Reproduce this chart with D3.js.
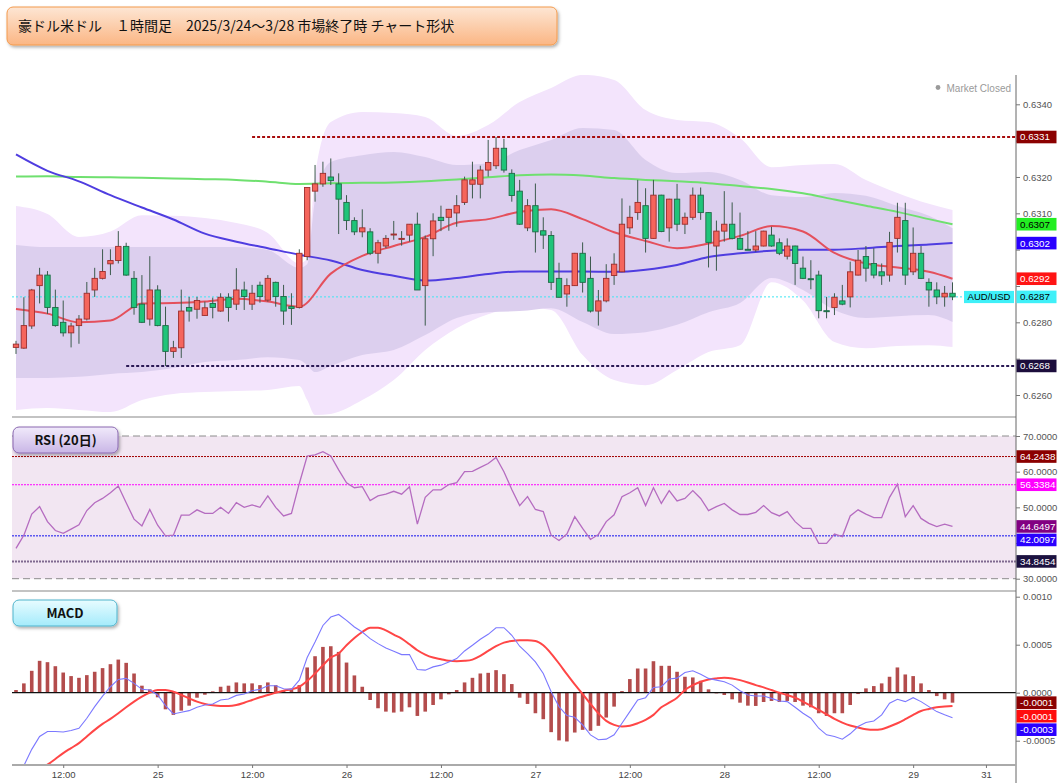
<!DOCTYPE html>
<html>
<head>
<meta charset="utf-8">
<script src="https://cdn.jsdelivr.net/npm/d3@7"></script>
<style>
  body { margin: 0; background: #fff; }
  svg { display: block; }
</style>
</head>
<body>
<div id="chart"></div>
<script>
// 1時間足 OHLC (3/24 06:00 ～ 3/29 05:00 JST)
const openP = [
  0.62731, 0.62729, 0.62790, 0.62901, 0.62930, 0.62841, 0.62800, 0.62771, 0.62791, 0.62809,
  0.62889, 0.62921, 0.62961, 0.62970, 0.63009, 0.62921, 0.62850, 0.62809, 0.62889, 0.62791,
  0.62720, 0.62730, 0.62841, 0.62836, 0.62819, 0.62852, 0.62831, 0.62869, 0.62850, 0.62889,
  0.62850, 0.62902, 0.62861, 0.62910, 0.62871, 0.62843, 0.62841, 0.62981, 0.63161, 0.63181,
  0.63200, 0.63181, 0.63130, 0.63080, 0.63049, 0.63049, 0.62990, 0.63010, 0.63041, 0.63030,
  0.63040, 0.63070, 0.62901, 0.63030, 0.63089, 0.63089, 0.63101, 0.63130, 0.63180, 0.63180,
  0.63219, 0.63231, 0.63279, 0.63210, 0.63161, 0.63060, 0.63121, 0.63052, 0.63039, 0.62921,
  0.62878, 0.62901, 0.62990, 0.62921, 0.62831, 0.62859, 0.62929, 0.62939, 0.63060, 0.63102,
  0.63121, 0.63031, 0.63150, 0.63060, 0.63139, 0.63070, 0.63089, 0.63150, 0.63102, 0.63010,
  0.63051, 0.63070, 0.63031, 0.63001, 0.62999, 0.63010, 0.63040, 0.63019, 0.62982, 0.63010,
  0.62949, 0.62920, 0.62930, 0.62832, 0.62841, 0.62859, 0.62870, 0.62930, 0.62981, 0.62962,
  0.62939, 0.62930, 0.63031, 0.63080, 0.62939, 0.62990, 0.62910, 0.62889, 0.62870, 0.62880
];
const highP = [
  0.62749, 0.62869, 0.62892, 0.62950, 0.62941, 0.62890, 0.62860, 0.62799, 0.62820, 0.62911,
  0.62950, 0.63001, 0.63001, 0.63051, 0.63019, 0.62941, 0.62930, 0.62982, 0.62902, 0.62843,
  0.62749, 0.62890, 0.62870, 0.62870, 0.62857, 0.62868, 0.62880, 0.62880, 0.62949, 0.62912,
  0.62903, 0.62912, 0.62930, 0.62912, 0.62903, 0.62880, 0.63001, 0.63171, 0.63233, 0.63242,
  0.63251, 0.63210, 0.63150, 0.63089, 0.63111, 0.63059, 0.63027, 0.63040, 0.63079, 0.63051,
  0.63070, 0.63102, 0.63039, 0.63100, 0.63121, 0.63112, 0.63150, 0.63201, 0.63242, 0.63231,
  0.63302, 0.63310, 0.63305, 0.63221, 0.63192, 0.63139, 0.63182, 0.63089, 0.63051, 0.62964,
  0.62921, 0.62991, 0.63020, 0.62981, 0.62889, 0.62960, 0.62990, 0.63141, 0.63121, 0.63192,
  0.63169, 0.63192, 0.63151, 0.63140, 0.63181, 0.63102, 0.63171, 0.63171, 0.63103, 0.63080,
  0.63161, 0.63130, 0.63102, 0.63051, 0.63051, 0.63052, 0.63063, 0.63031, 0.63031, 0.63011,
  0.62981, 0.62971, 0.62942, 0.62870, 0.62880, 0.62903, 0.62967, 0.62999, 0.63010, 0.63004,
  0.62962, 0.63049, 0.63129, 0.63129, 0.63061, 0.63010, 0.62921, 0.62910, 0.62900, 0.62910
];
const lowP = [
  0.62713, 0.62727, 0.62782, 0.62852, 0.62823, 0.62788, 0.62761, 0.62731, 0.62741, 0.62805,
  0.62870, 0.62918, 0.62930, 0.62962, 0.62928, 0.62821, 0.62798, 0.62791, 0.62789, 0.62680,
  0.62702, 0.62702, 0.62802, 0.62810, 0.62818, 0.62811, 0.62829, 0.62802, 0.62834, 0.62834,
  0.62834, 0.62854, 0.62857, 0.62843, 0.62793, 0.62793, 0.62838, 0.62971, 0.63132, 0.63173,
  0.63178, 0.63043, 0.63054, 0.63040, 0.63034, 0.62985, 0.62962, 0.63004, 0.63027, 0.63011,
  0.63022, 0.62889, 0.62791, 0.62982, 0.63051, 0.63052, 0.63063, 0.63123, 0.63141, 0.63141,
  0.63201, 0.63222, 0.63212, 0.63132, 0.63068, 0.63051, 0.62992, 0.63002, 0.62889, 0.62868,
  0.62843, 0.62900, 0.62882, 0.62827, 0.62791, 0.62855, 0.62903, 0.62938, 0.63043, 0.63082,
  0.62992, 0.63030, 0.63048, 0.63022, 0.63051, 0.63043, 0.63082, 0.63082, 0.62951, 0.62942,
  0.63022, 0.63028, 0.63000, 0.62999, 0.62994, 0.63009, 0.63008, 0.62985, 0.62973, 0.62903,
  0.62919, 0.62891, 0.62811, 0.62811, 0.62820, 0.62847, 0.62841, 0.62929, 0.62912, 0.62921,
  0.62903, 0.62912, 0.62992, 0.62903, 0.62930, 0.62919, 0.62843, 0.62850, 0.62843, 0.62861
];
const closeP = [
  0.62740, 0.62791, 0.62889, 0.62930, 0.62841, 0.62791, 0.62771, 0.62790, 0.62809, 0.62880,
  0.62921, 0.62940, 0.62970, 0.63009, 0.62930, 0.62841, 0.62800, 0.62889, 0.62791, 0.62720,
  0.62730, 0.62831, 0.62831, 0.62860, 0.62840, 0.62841, 0.62869, 0.62841, 0.62889, 0.62871,
  0.62880, 0.62871, 0.62921, 0.62871, 0.62831, 0.62838, 0.62990, 0.63171, 0.63181, 0.63210,
  0.63190, 0.63139, 0.63080, 0.63049, 0.63060, 0.62990, 0.63019, 0.63031, 0.63043, 0.63031,
  0.63070, 0.62889, 0.63030, 0.63079, 0.63080, 0.63111, 0.63121, 0.63192, 0.63192, 0.63219,
  0.63240, 0.63279, 0.63219, 0.63149, 0.63070, 0.63121, 0.63049, 0.63040, 0.62910, 0.62869,
  0.62901, 0.62990, 0.62910, 0.62831, 0.62859, 0.62921, 0.62960, 0.63070, 0.63089, 0.63130,
  0.63031, 0.63150, 0.63050, 0.63139, 0.63070, 0.63089, 0.63150, 0.63102, 0.63020, 0.63051,
  0.63070, 0.63031, 0.63001, 0.63000, 0.63010, 0.63051, 0.63010, 0.62990, 0.63010, 0.62962,
  0.62921, 0.62919, 0.62832, 0.62831, 0.62869, 0.62850, 0.62939, 0.62971, 0.62949, 0.62930,
  0.62928, 0.63020, 0.63089, 0.62930, 0.62990, 0.62921, 0.62889, 0.62870, 0.62880, 0.62870
];

// 移動平均 (4本ごとに読み取り)
const maIdx = [0, 4, 8, 12, 16, 20, 24, 28, 32, 36, 40, 44, 48, 52, 56, 60, 64, 68, 72, 76,
  80, 84, 88, 92, 96, 100, 104, 108, 112, 116, 119];
const maShort = [0.62837, 0.62824, 0.62800, 0.62805, 0.62852, 0.62853, 0.62857, 0.62865, 0.62857, 0.62843,
  0.62934, 0.62983, 0.63010, 0.63035, 0.63074, 0.63084, 0.63104, 0.63111, 0.63084, 0.63048,
  0.63024, 0.63004, 0.63017, 0.63038, 0.63065, 0.63050, 0.62991, 0.62962, 0.62951, 0.62939, 0.62920];
const maMid = [0.63262, 0.63217, 0.63188, 0.63150, 0.63116, 0.63083, 0.63044, 0.63022, 0.63004, 0.62986,
  0.62970, 0.62944, 0.62928, 0.62915, 0.62922, 0.62933, 0.62940, 0.62940, 0.62940, 0.62939,
  0.62945, 0.62958, 0.62980, 0.62990, 0.62997, 0.63000, 0.63000, 0.63004, 0.63010, 0.63014, 0.63018];
const maLong = [0.63201, 0.63202, 0.63200, 0.63199, 0.63198, 0.63196, 0.63194, 0.63192, 0.63187, 0.63181,
  0.63183, 0.63184, 0.63185, 0.63188, 0.63193, 0.63199, 0.63205, 0.63207, 0.63204, 0.63197,
  0.63192, 0.63188, 0.63183, 0.63175, 0.63167, 0.63155, 0.63138, 0.63121, 0.63104, 0.63084, 0.63070];

// ボリンジャーバンド (±2σ 内側, ±3σ 外側)
const bandIdx = [0, 4, 8, 12, 16, 20, 24, 28, 32, 36, 37, 38, 40, 44, 48, 52, 56, 60, 64, 68,
  72, 76, 80, 84, 88, 92, 96, 100, 104, 108, 112, 116, 119];
const bandOuterUp = [0.63120, 0.63098, 0.63035, 0.63050, 0.63095, 0.63093, 0.63087, 0.63073, 0.63046, 0.62962,
  0.62975, 0.63205, 0.63351, 0.63379, 0.63376, 0.63365, 0.63313, 0.63343, 0.63406, 0.63445,
  0.63481, 0.63467, 0.63384, 0.63357, 0.63351, 0.63307, 0.63227, 0.63233, 0.63236, 0.63192,
  0.63156, 0.63126, 0.63109];
const bandInnerUp = [0.63013, 0.63007, 0.63007, 0.63007, 0.63007, 0.63007, 0.63007, 0.63007, 0.62999, 0.62950,
  0.62960, 0.63137, 0.63241, 0.63260, 0.63269, 0.63255, 0.63233, 0.63238, 0.63274, 0.63302,
  0.63335, 0.63329, 0.63247, 0.63211, 0.63214, 0.63192, 0.63150, 0.63145, 0.63156, 0.63148,
  0.63120, 0.63093, 0.63059];
const bandInnerLow = [0.62647, 0.62647, 0.62650, 0.62658, 0.62663, 0.62674, 0.62691, 0.62696, 0.62704, 0.62696,
  0.62682, 0.62663, 0.62680, 0.62710, 0.62724, 0.62765, 0.62812, 0.62828, 0.62831, 0.62839,
  0.62801, 0.62768, 0.62773, 0.62793, 0.62828, 0.62853, 0.62922, 0.62889, 0.62834, 0.62812,
  0.62817, 0.62820, 0.62801];
const bandOuterLow = [0.62559, 0.62564, 0.62559, 0.62553, 0.62586, 0.62603, 0.62608, 0.62611, 0.62614, 0.62625,
  0.62586, 0.62545, 0.62548, 0.62586, 0.62641, 0.62724, 0.62784, 0.62822, 0.62842, 0.62834,
  0.62710, 0.62641, 0.62627, 0.62669, 0.62718, 0.62737, 0.62910, 0.62860, 0.62746, 0.62729,
  0.62735, 0.62737, 0.62732];

// RSI (20)
const rsi = [
  38.5, 42.2, 48.1, 50.2, 46.0, 43.5, 42.7, 43.9, 45.1, 49.1,
  51.3, 52.5, 54.1, 56.0, 51.3, 46.7, 44.8, 49.4, 45.0, 42.0,
  42.2, 47.8, 47.8, 49.3, 48.3, 48.3, 50.0, 48.3, 51.3, 50.0,
  50.7, 50.0, 53.2, 50.0, 47.6, 48.3, 56.7, 64.4, 64.7, 65.6,
  64.4, 60.5, 56.9, 55.5, 55.8, 51.9, 53.2, 53.7, 54.5, 53.7,
  55.8, 45.3, 52.8, 54.9, 54.9, 56.4, 56.9, 60.0, 60.1, 61.2,
  62.3, 64.0, 60.0, 55.0, 50.5, 53.0, 49.4, 48.8, 42.2, 40.7,
  42.5, 47.4, 44.1, 41.0, 42.4, 46.0, 47.9, 53.0, 54.1, 55.5,
  50.5, 55.5, 51.1, 54.7, 51.8, 52.5, 54.7, 52.5, 49.1, 50.2,
  51.1, 49.3, 48.0, 48.0, 48.6, 50.5, 48.5, 47.6, 48.8, 46.0,
  44.1, 44.1, 39.9, 39.9, 42.5, 41.8, 47.6, 49.3, 48.1, 47.1,
  47.1, 52.8, 56.5, 47.4, 50.5, 46.9, 45.5, 44.6, 45.3, 44.6497
];
const rsiLevels = [64.2438, 56.3384, 42.0097, 34.8454];

// MACD (単位 0.0001)
const macdHist = [
  0.28, 0.97, 2.28, 3.32, 3.18, 2.76, 2.10, 1.73, 1.55, 1.83,
  2.18, 2.56, 2.97, 3.45, 3.11, 2.00, 0.73, 0.35, -0.48, -1.73,
  -2.31, -1.87, -1.35, -0.52, -0.21, 0.14, 0.62, 0.73, 1.07, 0.97,
  0.97, 0.79, 1.07, 0.79, 0.28, 0.35, 0.79, 2.63, 3.80, 4.77,
  4.84, 4.25, 3.14, 1.80, 0.62, -0.76, -1.62, -1.97, -2.07, -1.97,
  -1.52, -2.42, -1.97, -1.28, -0.69, -0.17, 0.28, 1.07, 1.55, 2.00,
  2.07, 2.35, 1.93, 0.90, -0.52, -1.17, -2.14, -2.76, -4.11, -4.97,
  -5.08, -4.15, -3.87, -3.97, -3.45, -2.59, -1.45, 0.17, 1.42, 2.52,
  2.52, 3.28, 2.80, 2.80, 2.18, 1.66, 1.59, 1.24, 0.35, -0.07,
  -0.24, -0.69, -1.04, -1.35, -1.38, -0.97, -0.86, -0.97, -0.86, -0.97,
  -1.35, -1.52, -2.14, -2.42, -2.14, -2.14, -1.28, -0.14, 0.45, 0.69,
  0.97, 1.66, 2.63, 1.90, 1.73, 0.97, 0.28, -0.35, -0.69, -1.04
];
const macdLine = [
  -9.00, -7.60, -5.90, -4.56, -4.04, -4.04, -4.10, -3.94, -3.70, -2.66,
  -1.45, -0.35, 0.62, 1.38, 1.49, 0.97, 0.35, 0.28, -0.24, -1.35,
  -2.21, -2.04, -1.87, -1.52, -1.28, -1.17, -0.76, -0.66, -0.28, -0.14,
  0.21, 0.35, 0.73, 0.73, 0.41, 0.35, 1.31, 3.66, 5.28, 7.00,
  7.88, 8.15, 7.53, 6.84, 6.32, 5.63, 5.11, 4.66, 4.32, 3.97,
  3.97, 2.42, 2.35, 2.69, 2.87, 3.21, 3.56, 4.35, 4.94, 5.56,
  6.08, 6.77, 6.77, 5.98, 4.84, 4.08, 3.21, 2.00, 0.10, -1.45,
  -2.38, -2.56, -3.35, -4.39, -4.90, -4.84, -4.39, -3.18, -1.97, -0.76,
  -0.52, 0.55, 0.62, 1.42, 1.52, 2.10, 2.28, 1.93, 1.49, 1.31,
  1.14, 0.79, 0.21, -0.24, -0.35, -0.35, -0.59, -0.86, -0.93, -1.52,
  -2.14, -2.66, -3.70, -4.39, -4.56, -4.84, -4.28, -3.52, -3.11, -2.94,
  -2.31, -1.10, -0.69, -0.93, -0.52, -0.93, -1.45, -1.97, -2.30, -2.60
];
const macdSignal = [
  -9.60, -9.10, -8.60, -8.00, -7.50, -6.90, -6.29, -5.77, -5.25, -4.56,
  -3.87, -3.25, -2.73, -2.14, -1.52, -0.93, -0.41, 0.00, 0.28, 0.28,
  0.10, -0.24, -0.59, -0.93, -1.17, -1.31, -1.38, -1.38, -1.28, -1.04,
  -0.76, -0.48, -0.24, 0.00, 0.21, 0.35, 0.62, 1.21, 2.00, 2.87,
  3.66, 4.08, 4.94, 5.70, 6.32, 6.77, 6.77, 6.49, 6.04, 5.63,
  5.04, 4.42, 3.97, 3.66, 3.49, 3.32, 3.28, 3.32, 3.45, 3.83,
  4.35, 4.84, 5.22, 5.39, 5.46, 5.46, 5.39, 4.94, 4.08, 3.04,
  1.93, 0.86, -0.14, -1.17, -2.14, -2.94, -3.35, -3.52, -3.45, -3.18,
  -2.83, -2.31, -1.52, -1.04, -0.52, 0.28, 0.79, 1.14, 1.38, 1.49,
  1.55, 1.49, 1.31, 1.07, 0.79, 0.55, 0.28, 0.00, -0.24, -0.52,
  -0.93, -1.35, -1.80, -2.25, -2.73, -3.11, -3.42, -3.63, -3.80, -3.87,
  -3.80, -3.52, -3.18, -2.76, -2.31, -1.90, -1.69, -1.52, -1.45, -1.38
];

// 高値・安値ライン
const levelHigh = { value: 0.6331, from: 30 };
const levelLow = { value: 0.6268, from: 14 };

// 軸ラベル
const priceTicks = [0.6260, 0.6270, 0.6280, 0.6290, 0.6300, 0.6310, 0.6320, 0.6330, 0.6340];
const rsiTicks = [30, 40, 50, 60, 70];
const macdTicks = [-5, 0, 5, 10];
const timeIdx = [6, 18, 30, 42, 54, 66, 78, 90, 102, 114, 123.25];
const timeLabels = ["12:00", "25", "12:00", "26", "12:00", "27", "12:00", "28", "12:00", "29", "31"];
const titleText = "豪ドル米ドル　１時間足　2025/3/24～3/28 市場終了時 チャート形状";

// ---------------------------------------------------------------
const width = 1061, height = 783;
const left = 12, axisX = 1016;
const pTop = 75, pBot = 417, rBot = 591, mBot = 765;
const fontNum = "'Liberation Sans', Arial, sans-serif";
const fontJp = "'Noto Sans CJK JP', 'Noto Sans', sans-serif";

const svg = d3.select('#chart').append('svg')
  .attr('width', width).attr('height', height);

const defs = svg.append('defs');
const shadow = defs.append('filter').attr('id', 'shadow')
  .attr('x', '-10%').attr('y', '-30%').attr('width', '130%').attr('height', '180%');
shadow.append('feDropShadow').attr('dx', 1.5).attr('dy', 2).attr('stdDeviation', 1.5)
  .attr('flood-color', '#000').attr('flood-opacity', 0.3);

function gradient(id, c1, c2) {
  const g = defs.append('linearGradient').attr('id', id)
    .attr('x1', 0).attr('y1', 0).attr('x2', 0).attr('y2', 1);
  g.append('stop').attr('offset', '0%').attr('stop-color', c1);
  g.append('stop').attr('offset', '100%').attr('stop-color', c2);
}
gradient('gTitle', '#fde6d4', '#fbb684');
gradient('gRsi', '#f1eafb', '#c9b6e6');
gradient('gMacd', '#e8fcff', '#a4ebfb');

function clip(id, y0, y1) {
  defs.append('clipPath').attr('id', id).append('rect')
    .attr('x', left).attr('y', y0).attr('width', axisX - left).attr('height', y1 - y0);
}
clip('cPrice', pTop, pBot);
clip('cRsi', pBot, rBot);
clip('cMacd', rBot, mBot);

// scales
const x = d3.scaleLinear().domain([0, 119]).range([16, 952.5]);
const yP = d3.scaleLinear().domain([0.6260, 0.6340]).range([395, 104.3]);
const yR = d3.scaleLinear().domain([30, 70]).range([578.7, 436]);
const yM = d3.scaleLinear().domain([-5, 10]).range([740.7, 596.7]);

// ---------------- price panel
const gp = svg.append('g').attr('clip-path', 'url(#cPrice)');

const bandData = bandIdx.map((d, k) => ({
  i: d, ou: bandOuterUp[k], iu: bandInnerUp[k], il: bandInnerLow[k], ol: bandOuterLow[k]
}));
gp.append('path').datum(bandData)
  .attr('fill', '#f3e4fc')
  .attr('d', d3.area().curve(d3.curveMonotoneX)
    .x(d => x(d.i)).y0(d => yP(d.ol)).y1(d => yP(d.ou)));
gp.append('path').datum(bandData)
  .attr('fill', '#dccfee')
  .attr('d', d3.area().curve(d3.curveMonotoneX)
    .x(d => x(d.i)).y0(d => yP(d.il)).y1(d => yP(d.iu)));

// current price line
gp.append('line')
  .attr('x1', left).attr('x2', axisX)
  .attr('y1', yP(closeP[119])).attr('y2', yP(closeP[119]))
  .attr('stroke', '#3ee6f2').attr('stroke-width', 1).attr('stroke-dasharray', '2,2');

// high / low lines
[[levelHigh, '#a80d0d'], [levelLow, '#2b1a55']].forEach(([lv, col]) => {
  gp.append('line')
    .attr('x1', x(lv.from)).attr('x2', axisX)
    .attr('y1', yP(lv.value)).attr('y2', yP(lv.value))
    .attr('stroke', col).attr('stroke-width', 2).attr('stroke-dasharray', '3,2');
});

// moving averages
const maLineGen = arr => d3.line().curve(d3.curveMonotoneX)
  .x((d, k) => x(maIdx[k])).y(d => yP(d))(arr);
gp.append('path').attr('d', maLineGen(maLong))
  .attr('fill', 'none').attr('stroke', '#6fe06f').attr('stroke-width', 2);
gp.append('path').attr('d', maLineGen(maMid))
  .attr('fill', 'none').attr('stroke', '#4f3de0').attr('stroke-width', 2);
gp.append('path').attr('d', maLineGen(maShort))
  .attr('fill', 'none').attr('stroke', '#e4505c').attr('stroke-width', 2);

// candles
const candles = openP.map((o, i) => ({ i, o, h: highP[i], l: lowP[i], c: closeP[i] }));
const cg = gp.selectAll('.candle').data(candles).enter().append('g').attr('class', 'candle');
cg.append('line')
  .attr('x1', d => x(d.i)).attr('x2', d => x(d.i))
  .attr('y1', d => yP(d.h)).attr('y2', d => yP(d.l))
  .attr('stroke', '#3c5a4d').attr('stroke-width', 1);
cg.append('rect')
  .attr('x', d => x(d.i) - 2.7).attr('width', 5.4)
  .attr('y', d => yP(Math.max(d.o, d.c)))
  .attr('height', d => Math.max(1, Math.abs(yP(d.o) - yP(d.c))))
  .attr('fill', d => d.c >= d.o ? '#f5655c' : '#1fc47a')
  .attr('stroke', d => d.c >= d.o ? '#9c2d2d' : '#1e6a45')
  .attr('stroke-width', 0.9);

// Market Closed
svg.append('circle').attr('cx', 938).attr('cy', 87.5).attr('r', 2.4).attr('fill', '#9a9a9a');
svg.append('text').attr('x', 1011).attr('y', 91.5).attr('text-anchor', 'end')
  .attr('font-family', fontNum).attr('font-size', 10).attr('fill', '#9a9a9a')
  .text('Market Closed');

// ---------------- RSI panel
const gr = svg.append('g').attr('clip-path', 'url(#cRsi)');
gr.append('rect').attr('x', left).attr('width', axisX - left)
  .attr('y', yR(70)).attr('height', yR(30) - yR(70)).attr('fill', '#f2e6f2');
[70, 30].forEach(v => {
  gr.append('line').attr('x1', left).attr('x2', axisX)
    .attr('y1', yR(v)).attr('y2', yR(v))
    .attr('stroke', '#8c8c8c').attr('stroke-width', 1).attr('stroke-dasharray', '7,4');
});
const rsiLevelStyle = [['#a00000', 1], ['#ff00ff', 1], ['#1010ee', 1], ['#806a90', 2]];
rsiLevels.forEach((v, k) => {
  gr.append('line').attr('x1', left).attr('x2', axisX)
    .attr('y1', yR(v)).attr('y2', yR(v))
    .attr('stroke', rsiLevelStyle[k][0]).attr('stroke-width', rsiLevelStyle[k][1])
    .attr('stroke-dasharray', '2,1');
});
gr.append('path')
  .attr('d', d3.line().x((d, i) => x(i)).y(d => yR(d))(rsi))
  .attr('fill', 'none').attr('stroke', '#b56cc0').attr('stroke-width', 1.3);

// ---------------- MACD panel
const gm = svg.append('g').attr('clip-path', 'url(#cMacd)');
gm.selectAll('.hist').data(macdHist).enter().append('rect')
  .attr('x', (d, i) => x(i) - 1.8).attr('width', 3.6)
  .attr('y', d => yM(Math.max(0, d)))
  .attr('height', d => Math.abs(yM(d) - yM(0)))
  .attr('fill', '#b34c4c');
gm.append('line').attr('x1', left).attr('x2', axisX)
  .attr('y1', yM(0)).attr('y2', yM(0)).attr('stroke', '#111').attr('stroke-width', 1.2);
gm.append('path')
  .attr('d', d3.line().curve(d3.curveMonotoneX).x((d, i) => x(i)).y(d => yM(d))(macdSignal))
  .attr('fill', 'none').attr('stroke', '#ff4646').attr('stroke-width', 2);
gm.append('path')
  .attr('d', d3.line().x((d, i) => x(i)).y(d => yM(d))(macdLine))
  .attr('fill', 'none').attr('stroke', '#7b78ff').attr('stroke-width', 1.1);

// ---------------- frame
svg.append('line').attr('x1', left).attr('x2', axisX).attr('y1', pBot).attr('y2', pBot)
  .attr('stroke', '#888').attr('stroke-width', 1.2);
svg.append('line').attr('x1', left).attr('x2', axisX).attr('y1', rBot).attr('y2', rBot)
  .attr('stroke', '#888').attr('stroke-width', 1.2);
svg.append('line').attr('x1', axisX).attr('x2', axisX).attr('y1', pTop).attr('y2', height)
  .attr('stroke', '#666').attr('stroke-width', 1);

// value tags (collected first so that tick labels hidden behind them can be dropped)
const last = maIdx.length - 1;
function stack(list, gap) {
  list.sort((a, b) => a.y - b.y);
  for (let k = 1; k < list.length; k++) {
    if (list[k].y < list[k - 1].y + gap) list[k].y = list[k - 1].y + gap;
  }
  return list;
}
const priceTags = stack([
  { y: yP(levelHigh.value), text: levelHigh.value.toFixed(4), bg: '#8b0000', fg: '#fff' },
  { y: yP(maLong[last]), text: maLong[last].toFixed(4), bg: '#22ee22', fg: '#000' },
  { y: yP(maMid[last]), text: maMid[last].toFixed(4), bg: '#2a00ff', fg: '#fff' },
  { y: yP(maShort[last]), text: maShort[last].toFixed(4), bg: '#ff1414', fg: '#fff' },
  { y: yP(closeP[119]), text: closeP[119].toFixed(4), bg: '#3ff0f8', fg: '#000' },
  { y: yP(levelLow.value), text: levelLow.value.toFixed(4), bg: '#1c0d3c', fg: '#fff' }
], 13);
const rsiTags = stack([
  { y: yR(rsiLevels[0]), text: rsiLevels[0].toFixed(4), bg: '#8b0000', fg: '#fff' },
  { y: yR(rsiLevels[1]), text: rsiLevels[1].toFixed(4), bg: '#ff00ff', fg: '#fff' },
  { y: yR(rsi[119]), text: rsi[119].toFixed(4), bg: '#820082', fg: '#fff' },
  { y: yR(rsiLevels[2]), text: rsiLevels[2].toFixed(4), bg: '#2a00ff', fg: '#fff' },
  { y: yR(rsiLevels[3]), text: rsiLevels[3].toFixed(4), bg: '#1c1240', fg: '#fff' }
], 13.5);
const macdTags = stack([
  { y: yM(macdHist[119]), text: (macdHist[119] / 10000).toFixed(4), bg: '#8b0000', fg: '#fff' },
  { y: yM(macdSignal[119]), text: (macdSignal[119] / 10000).toFixed(4), bg: '#ff0d0d', fg: '#fff' },
  { y: yM(macdLine[119]), text: (macdLine[119] / 10000).toFixed(4), bg: '#2a00ff', fg: '#fff' }
], 13.5);
const allTags = priceTags.concat(rsiTags, macdTags);

function styleAxis(g) {
  g.select('.domain').remove();
  g.selectAll('.tick line').attr('stroke', '#777');
  g.selectAll('.tick text').attr('font-family', fontNum).attr('font-size', 9.5).attr('fill', '#555');
}
function hideCovered(g, scale) {
  g.selectAll('.tick text').filter(d => allTags.some(t => Math.abs(t.y - scale(d)) < 8.5)).remove();
}
svg.append('g').attr('transform', `translate(${axisX},0)`)
  .call(d3.axisRight(yP).tickValues(priceTicks).tickSize(4).tickFormat(d3.format('.4f')))
  .call(styleAxis).call(g => hideCovered(g, yP));
svg.append('g').attr('transform', `translate(${axisX},0)`)
  .call(d3.axisRight(yR).tickValues(rsiTicks).tickSize(4).tickFormat(d3.format('.4f')))
  .call(styleAxis).call(g => hideCovered(g, yR));
svg.append('g').attr('transform', `translate(${axisX},0)`)
  .call(d3.axisRight(yM).tickValues(macdTicks).tickSize(4).tickFormat(v => (v / 10000).toFixed(4)))
  .call(styleAxis).call(g => hideCovered(g, yM));

svg.append('line').attr('x1', left).attr('x2', axisX).attr('y1', mBot).attr('y2', mBot)
  .attr('stroke', '#aaa').attr('stroke-width', 2);
svg.append('g').attr('transform', `translate(0,${mBot})`)
  .call(d3.axisBottom(x).tickValues(timeIdx).tickSize(3).tickFormat((d, k) => timeLabels[k]))
  .call(styleAxis)
  .call(g => g.selectAll('.tick text').attr('fill', '#444'));

function tag(t) {
  const g = svg.append('g');
  g.append('rect').attr('x', axisX + 0.5).attr('y', t.y - 6.3).attr('width', 40).attr('height', 12.6)
    .attr('fill', t.bg);
  g.append('text').attr('x', axisX + 4).attr('y', t.y + 3.4)
    .attr('font-family', fontNum).attr('font-size', 9.8).attr('fill', t.fg).text(t.text);
}
allTags.forEach(tag);

svg.append('rect').attr('x', 964).attr('y', yP(closeP[119]) - 6).attr('width', 50).attr('height', 12.2)
  .attr('fill', '#3ff0f8');
svg.append('text').attr('x', 989).attr('y', yP(closeP[119]) + 3.4).attr('text-anchor', 'middle')
  .attr('font-family', fontNum).attr('font-size', 9.5).attr('fill', '#000').text('AUD/USD');

// ---------------- title and panel badges
function badge(x0, y0, w, h, fill, stroke, text, size, weight, anchor) {
  const g = svg.append('g');
  g.append('rect').attr('x', x0).attr('y', y0).attr('width', w).attr('height', h)
    .attr('rx', 6).attr('fill', fill).attr('stroke', stroke).attr('stroke-width', 1)
    .attr('filter', 'url(#shadow)');
  g.append('text')
    .attr('x', anchor === 'middle' ? x0 + w / 2 : x0 + 11)
    .attr('y', y0 + h / 2 + size * 0.36)
    .attr('text-anchor', anchor)
    .attr('font-family', fontJp).attr('font-size', size).attr('font-weight', weight)
    .attr('fill', '#111').text(text);
}
badge(7, 7, 550, 38, 'url(#gTitle)', '#f39a4c', titleText, 14, 400, 'start');
badge(13, 427, 105, 26, 'url(#gRsi)', '#8a68b0', 'RSI (20日)', 13, 700, 'middle');
badge(13, 600, 104, 26, 'url(#gMacd)', '#4fb3cc', 'MACD', 13, 700, 'middle');
</script>
</body>
</html>
